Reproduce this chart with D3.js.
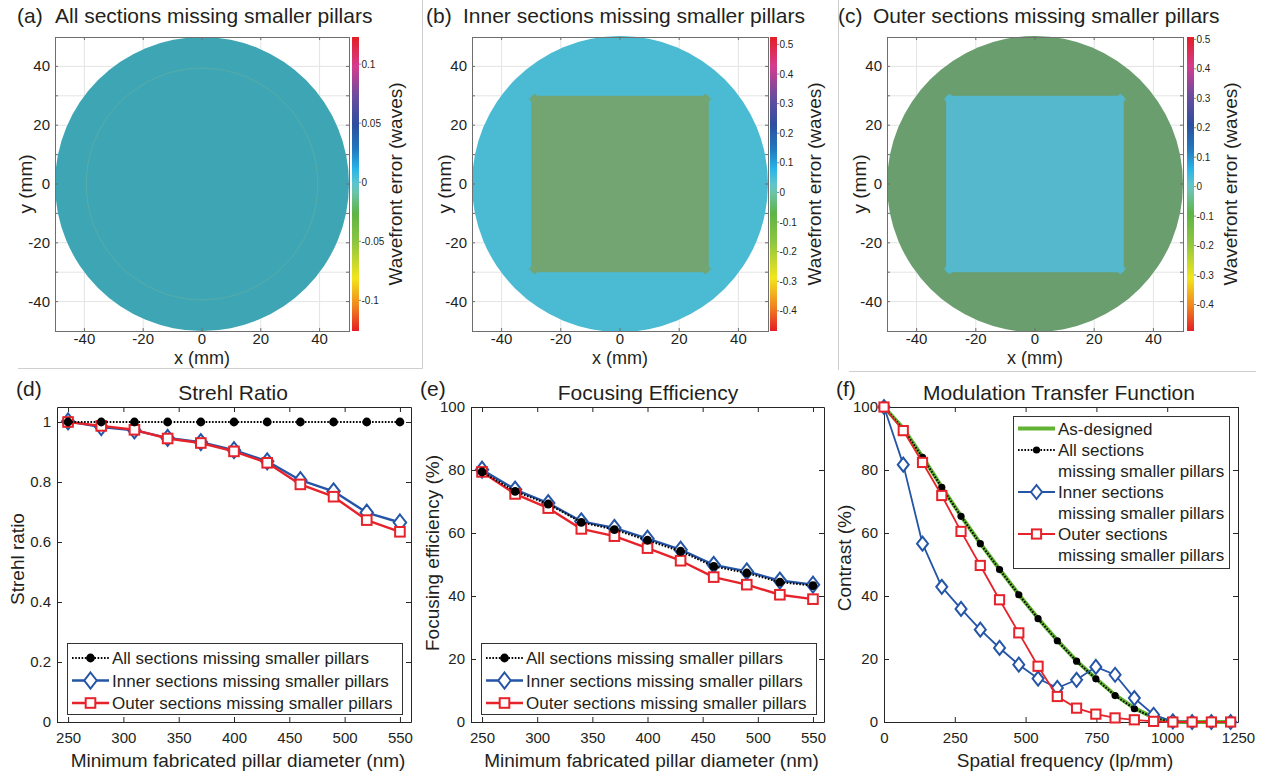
<!DOCTYPE html>
<html>
<head>
<meta charset="utf-8">
<script src="https://cdn.jsdelivr.net/npm/d3@7"></script>
<style>
  body { margin: 0; background: #fff; }
  svg text { font-family: "Liberation Sans", Arial, Helvetica, sans-serif; fill: #231f20; }
</style>
</head>
<body>
<svg id="fig" width="1261" height="775"></svg>
<script>
// ---------- data ----------
const mapLetters = ["(a)", "(b)", "(c)"];
const mapTitles = ["All sections missing smaller pillars",
                   "Inner sections missing smaller pillars",
                   "Outer sections missing smaller pillars"];
const mapXTicks = [-40, -20, 0, 20, 40];
const mapYTicks = [-40, -30, -20, -10, 0, 10, 20, 30, 40];
const mapYLabels = [-40, -20, 0, 20, 40];
const apertureRadius = 50;        // mm
const sectionEdges = [-30, 30];   // mm, inner square sections
const ringRadius = 39.4;          // faint ring visible in (a)
const cbarDomains = [[-0.126, 0.123], [-0.468, 0.525], [-0.49, 0.508]];
const cbarTicks = [
  [-0.1, -0.05, 0, 0.05, 0.1],
  [-0.4, -0.3, -0.2, -0.1, 0, 0.1, 0.2, 0.3, 0.4, 0.5],
  [-0.4, -0.3, -0.2, -0.1, 0, 0.1, 0.2, 0.3, 0.4, 0.5]
];

const seriesNames = ["All sections missing smaller pillars",
                     "Inner sections missing smaller pillars",
                     "Outer sections missing smaller pillars"];
const diameters = [250, 280, 310, 340, 370, 400, 430, 460, 490, 520, 550];
const diameterTicks = [250, 300, 350, 400, 450, 500, 550];
const strehlTicks = [0, 0.2, 0.4, 0.6, 0.8, 1];
const strehlAll   = [1, 1, 1, 1, 1, 1, 1, 1, 1, 1, 1];
const strehlInner = [1.002, 0.983, 0.972, 0.947, 0.933, 0.906, 0.869, 0.806, 0.769, 0.698, 0.665];
const strehlOuter = [1.0, 0.987, 0.974, 0.945, 0.930, 0.902, 0.864, 0.792, 0.751, 0.673, 0.634];
const percentTicks = [0, 20, 40, 60, 80, 100];
const effAll   = [79.4, 73.2, 69.2, 63.4, 61.1, 57.7, 54.2, 49.4, 47.3, 44.4, 43.3];
const effInner = [80.1, 73.8, 69.5, 63.7, 61.6, 58.2, 54.7, 49.9, 47.8, 44.9, 43.6];
const effOuter = [79.4, 72.4, 67.9, 61.3, 59.0, 55.2, 51.2, 46.0, 43.6, 40.4, 39.0];

const freqTicks = [0, 250, 500, 750, 1000, 1250];
const freqs     = [0, 68, 136, 204, 272, 340, 408, 476, 544, 612, 680, 748, 816, 884, 952, 1020, 1088, 1156, 1224];
const mtfDesign = [100, 93.2, 84.2, 74.6, 65.4, 56.7, 48.5, 40.5, 32.9, 25.9, 19.4, 13.8, 8.6, 4.4, 1.4, 0, 0, 0, 0];
const mtfAll    = [100, 93.0, 84.0, 74.5, 65.3, 56.6, 48.4, 40.4, 32.8, 25.8, 19.3, 13.7, 8.4, 4.2, 1.3, 0, 0, 0, 0];
const mtfInner  = [100, 81.7, 56.6, 42.9, 35.9, 29.3, 23.5, 18.2, 13.8, 10.8, 13.4, 17.5, 15.0, 7.6, 2.3, 0.2, 0, 0, 0];
const mtfOuter  = [100, 92.5, 82.4, 71.9, 60.5, 49.7, 38.8, 28.3, 17.7, 8.1, 4.4, 2.5, 1.3, 0.7, 0.2, 0, 0, 0, 0];
const mtfNames  = [["As-designed"],
                   ["All sections", "missing smaller pillars"],
                   ["Inner sections", "missing smaller pillars"],
                   ["Outer sections", "missing smaller pillars"]];

// ---------- styles ----------
const INK = "#231f20";
const BLUE = "#2455a6", RED = "#e6222a", GREEN = "#62b334";
const cmapStops = [[0, "#e31e25"], [0.08, "#f0801f"], [0.18, "#f2e61c"], [0.3, "#8fc640"],
                   [0.4, "#5db446"], [0.47, "#6cc3a8"], [0.5, "#60c4cc"], [0.55, "#29b5e8"],
                   [0.62, "#2277bd"], [0.7, "#2c4f9f"], [0.8, "#6c4c9e"], [0.9, "#d43c8e"], [1, "#e31e25"]];

const svg = d3.select("#fig");
const defs = svg.append("defs");

// panel separators
svg.append("path").attr("d", "M18,368.5H422.5V0").attr("fill", "none").attr("stroke", "#cfcfcf");
svg.append("path").attr("d", "M838.5,0V370M849,371.5H1256").attr("fill", "none").attr("stroke", "#cfcfcf");

// ---------- wavefront maps ----------
const mapPanels = [
  { box: [55, 37, 349, 331], cbarX: 352, cbarLabelX: 402, yLabelX: 32, titleX: [17, 55],
    outer: "#3ea5b5", inner: null },
  { box: [472, 37, 768, 331], cbarX: 770, cbarLabelX: 821, yLabelX: 451, titleX: [426, 463],
    outer: "#4bbad3", inner: "#73a573" },
  { box: [887, 37, 1183, 331], cbarX: 1187, cbarLabelX: 1237, yLabelX: 866, titleX: [838, 873],
    outer: "#6a9e6e", inner: "#55b8cd" }
];

mapPanels.forEach((p, i) => {
  const [x0, y0, x1, y1] = p.box;
  const x = d3.scaleLinear().domain([-50, 50]).range([x0, x1]);
  const y = d3.scaleLinear().domain([-50, 50]).range([y1, y0]);
  const g = svg.append("g");

  // grid
  g.append("g").selectAll("line").data(mapXTicks).join("line")
    .attr("x1", d => x(d)).attr("x2", d => x(d)).attr("y1", y0).attr("y2", y1)
    .attr("stroke", "#e4e4e4");
  g.append("g").selectAll("line").data(mapYTicks).join("line")
    .attr("y1", d => y(d)).attr("y2", d => y(d)).attr("x1", x0).attr("x2", x1)
    .attr("stroke", "#e4e4e4");

  // aperture
  const r = x(apertureRadius) - x(0);
  g.append("circle").attr("cx", x(0)).attr("cy", y(0)).attr("r", r).attr("fill", p.outer);
  if (i === 0) {
    g.append("circle").attr("cx", x(0)).attr("cy", y(0)).attr("r", x(ringRadius) - x(0))
      .attr("fill", "none").attr("stroke", "#a9c27a").attr("stroke-opacity", 0.3).attr("stroke-width", 0.8);
  }
  if (p.inner) {
    const [a, b] = sectionEdges;
    g.append("rect").attr("x", x(a)).attr("y", y(b))
      .attr("width", x(b) - x(a)).attr("height", y(a) - y(b)).attr("fill", p.inner);
    // ragged corners of the inner sections
    const corners = [[a + 1.2, a + 1.2], [a + 1.2, b - 1.2], [b - 1.2, a + 1.2], [b - 1.2, b - 1.2]];
    const k = x(2) - x(0);
    g.append("g").selectAll("path").data(corners).join("path")
      .attr("d", d => `M${x(d[0])},${y(d[1]) - k}L${x(d[0]) + k},${y(d[1])}L${x(d[0])},${y(d[1]) + k}L${x(d[0]) - k},${y(d[1])}Z`)
      .attr("fill", p.inner).attr("opacity", 0.85);
  }

  // frame and ticks
  g.append("rect").attr("x", x0 + 0.5).attr("y", y0 + 0.5).attr("width", x1 - x0).attr("height", y1 - y0)
    .attr("fill", "none").attr("stroke", "#6e6e6e");
  const tk = g.append("g").attr("stroke", "#6e6e6e");
  mapXTicks.forEach(d => {
    tk.append("line").attr("x1", x(d)).attr("x2", x(d)).attr("y1", y1).attr("y2", y1 - 3);
    tk.append("line").attr("x1", x(d)).attr("x2", x(d)).attr("y1", y0).attr("y2", y0 + 3);
  });
  mapYTicks.forEach(d => {
    tk.append("line").attr("y1", y(d)).attr("y2", y(d)).attr("x1", x0).attr("x2", x0 + 3);
    tk.append("line").attr("y1", y(d)).attr("y2", y(d)).attr("x1", x1).attr("x2", x1 - 3);
  });
  g.append("g").selectAll("text").data(mapXTicks).join("text")
    .attr("x", d => x(d)).attr("y", y1 + 13).attr("text-anchor", "middle")
    .style("font-size", "15px").text(d => d);
  g.append("g").selectAll("text").data(mapYLabels).join("text")
    .attr("x", x0 - 5).attr("y", d => y(d) + 5).attr("text-anchor", "end")
    .style("font-size", "15px").text(d => d);

  g.append("text").attr("x", x(0)).attr("y", 364).attr("text-anchor", "middle")
    .style("font-size", "18px").text("x (mm)");
  g.append("text").attr("transform", `translate(${p.yLabelX},${y(0)}) rotate(-90)`)
    .attr("text-anchor", "middle").style("font-size", "19px").text("y (mm)");

  // title
  g.append("text").attr("x", p.titleX[0]).attr("y", 23).style("font-size", "21px").text(mapLetters[i]);
  g.append("text").attr("x", p.titleX[1]).attr("y", 23).style("font-size", "21px").text(mapTitles[i]);

  // colorbar
  const cs = d3.scaleLinear().domain(cbarDomains[i]).range([y1, y0]);
  const grad = defs.append("linearGradient").attr("id", `cm${i}`)
    .attr("x1", 0).attr("y1", 1).attr("x2", 0).attr("y2", 0);
  grad.selectAll("stop").data(cmapStops).join("stop")
    .attr("offset", d => d[0]).attr("stop-color", d => d[1]);
  g.append("rect").attr("x", p.cbarX).attr("y", y0).attr("width", 7).attr("height", y1 - y0)
    .attr("fill", `url(#cm${i})`);
  g.append("g").selectAll("line").data(cbarTicks[i]).join("line")
    .attr("x1", p.cbarX + 7).attr("x2", p.cbarX + 9).attr("y1", d => cs(d)).attr("y2", d => cs(d))
    .attr("stroke", "#888");
  g.append("g").selectAll("text").data(cbarTicks[i]).join("text")
    .attr("x", p.cbarX + 9.5).attr("y", d => cs(d) + 3.5)
    .style("font-size", "10px").text(d => d);
  g.append("text").attr("transform", `translate(${p.cbarLabelX},${y(0)}) rotate(-90)`)
    .attr("text-anchor", "middle").style("font-size", "19px").text("Wavefront error (waves)");
});

// ---------- line charts ----------
function drawMarker(g, type, cx, cy, color, small) {
  if (type === "dot") {
    g.append("circle").attr("cx", cx).attr("cy", cy).attr("r", small ? 3.6 : 4.4).attr("fill", "#000");
  } else if (type === "diamond") {
    const w = small ? 5.5 : 6.2, h = small ? 7 : 8;
    g.append("path").attr("d", `M${cx},${cy - h}L${cx + w},${cy}L${cx},${cy + h}L${cx - w},${cy}Z`)
      .attr("fill", "#fff").attr("stroke", color).attr("stroke-width", 2);
  } else if (type === "square") {
    const s = small ? 4.6 : 4.8;
    g.append("rect").attr("x", cx - s).attr("y", cy - s).attr("width", 2 * s).attr("height", 2 * s)
      .attr("fill", "#fff").attr("stroke", color).attr("stroke-width", 2);
  }
}

function drawLineChart(p) {
  const [x0, y0, x1, y1] = p.box;
  const x = d3.scaleLinear().domain(p.xDomain).range([x0, x1]);
  const y = d3.scaleLinear().domain(p.yDomain).range([y1, y0]);
  const g = svg.append("g");

  // axes (ticks inward on all four sides)
  const styleAxis = a => {
    a.select(".domain").attr("stroke", "#262626");
    a.selectAll(".tick line").attr("stroke", "#262626");
    a.selectAll("text").style("font-size", "15px").attr("fill", INK)
      .style("font-family", '"Liberation Sans", Arial, sans-serif');
  };
  g.append("g").attr("transform", `translate(0,${y1})`)
    .call(d3.axisBottom(x).tickValues(p.xTicks).tickSize(-5).tickPadding(10).tickSizeOuter(0).tickFormat(d => d))
    .call(styleAxis);
  g.append("g").attr("transform", `translate(0,${y0})`)
    .call(d3.axisTop(x).tickValues(p.xTicks).tickSize(-5).tickSizeOuter(0).tickFormat(""))
    .call(styleAxis);
  g.append("g").attr("transform", `translate(${x0},0)`)
    .call(d3.axisLeft(y).tickValues(p.yTicks).tickSize(-5).tickPadding(6).tickSizeOuter(0).tickFormat(d => d))
    .call(styleAxis);
  g.append("g").attr("transform", `translate(${x1},0)`)
    .call(d3.axisRight(y).tickValues(p.yTicks).tickSize(-5).tickSizeOuter(0).tickFormat(""))
    .call(styleAxis);

  // series
  p.series.forEach(s => {
    const pts = p.xs.map((xv, j) => [x(xv), y(s.values[j])]);
    g.append("path").attr("d", d3.line()(pts)).attr("fill", "none")
      .attr("stroke", s.color).attr("stroke-width", s.width)
      .attr("stroke-dasharray", s.dash || null).attr("stroke-linejoin", "round");
    if (s.marker) {
      const mg = g.append("g");
      pts.forEach(pt => drawMarker(mg, s.marker, pt[0], pt[1], s.color, p.small));
    }
  });

  // legend
  const lg = g.append("g");
  const [lx0, ly0, lx1, ly1] = p.legendBox;
  lg.append("rect").attr("x", lx0 + 0.5).attr("y", ly0 + 0.5).attr("width", lx1 - lx0).attr("height", ly1 - ly0)
    .attr("fill", "#fff").attr("stroke", "#333");
  p.legend.forEach(e => {
    const s = e.series;
    lg.append("line").attr("x1", lx0 + 5).attr("x2", lx0 + 42).attr("y1", e.y).attr("y2", e.y)
      .attr("stroke", s.color).attr("stroke-width", s.width).attr("stroke-dasharray", s.dash || null);
    if (s.marker) drawMarker(lg, s.marker, lx0 + 23.5, e.y, s.color, p.small);
    e.lines.forEach((t, k) => {
      lg.append("text").attr("x", lx0 + 45).attr("y", e.y + 6 + k * p.lineGap)
        .style("font-size", "17px").text(t);
    });
  });

  // labels
  g.append("text").attr("x", (x0 + x1) / 2 + 4).attr("y", 767).attr("text-anchor", "middle")
    .style("font-size", "19px").text(p.xLabel);
  g.append("text").attr("transform", `translate(${p.yLabelX},${p.yLabelY}) rotate(-90)`)
    .attr("text-anchor", "middle").style("font-size", "19px").text(p.yLabel);
  g.append("text").attr("x", p.letterX).attr("y", 396).style("font-size", "21px").text(p.letter);
  g.append("text").attr("x", p.titleX).attr("y", 400).attr("text-anchor", "middle")
    .style("font-size", "21px").text(p.title);
}

const sAll = v => ({ values: v, color: "#000", width: 2, dash: "1.6,1.6", marker: "dot" });
const sInner = (v, w) => ({ values: v, color: BLUE, width: w, marker: "diamond" });
const sOuter = (v, w) => ({ values: v, color: RED, width: w, marker: "square" });

// (d) Strehl ratio
{
  const all = sAll(strehlAll), inner = sInner(strehlInner, 2.4), outer = sOuter(strehlOuter, 2.4);
  drawLineChart({
    box: [57, 407, 411, 722], xDomain: [240, 560], yDomain: [0, 1.05],
    xTicks: diameterTicks, yTicks: strehlTicks, xs: diameters,
    series: [inner, outer, all],
    legendBox: [67, 643, 402, 714], lineGap: 21,
    legend: [{ series: all, y: 658, lines: [seriesNames[0]] },
             { series: inner, y: 680.5, lines: [seriesNames[1]] },
             { series: outer, y: 703, lines: [seriesNames[2]] }],
    xLabel: "Minimum fabricated pillar diameter (nm)", yLabel: "Strehl ratio",
    yLabelX: 24, yLabelY: 559, letter: "(d)", letterX: 16, title: "Strehl Ratio", titleX: 233
  });
}
// (e) Focusing efficiency
{
  const all = sAll(effAll), inner = sInner(effInner, 2.4), outer = sOuter(effOuter, 2.4);
  drawLineChart({
    box: [471, 407, 824, 722], xDomain: [240, 560], yDomain: [0, 100],
    xTicks: diameterTicks, yTicks: percentTicks, xs: diameters,
    series: [inner, outer, all],
    legendBox: [481, 643, 816, 714], lineGap: 21,
    legend: [{ series: all, y: 658, lines: [seriesNames[0]] },
             { series: inner, y: 680.5, lines: [seriesNames[1]] },
             { series: outer, y: 703, lines: [seriesNames[2]] }],
    xLabel: "Minimum fabricated pillar diameter (nm)", yLabel: "Focusing efficiency (%)",
    yLabelX: 439, yLabelY: 553, letter: "(e)", letterX: 420, title: "Focusing Efficiency", titleX: 648
  });
}
// (f) MTF
{
  const design = { values: mtfDesign, color: GREEN, width: 4 };
  const all = sAll(mtfAll), inner = sInner(mtfInner, 1.8), outer = sOuter(mtfOuter, 1.8);
  drawLineChart({
    box: [884, 407, 1238, 722], xDomain: [0, 1250], yDomain: [0, 100], small: true,
    xTicks: freqTicks, yTicks: percentTicks, xs: freqs,
    series: [design, all, inner, outer],
    legendBox: [1013, 416, 1229, 568], lineGap: 21.3,
    legend: [{ series: design, y: 428.5, lines: mtfNames[0] },
             { series: all, y: 450, lines: mtfNames[1] },
             { series: inner, y: 492, lines: mtfNames[2] },
             { series: outer, y: 534, lines: mtfNames[3] }],
    xLabel: "Spatial frequency (lp/mm)", yLabel: "Contrast (%)",
    yLabelX: 851, yLabelY: 558, letter: "(f)", letterX: 836, title: "Modulation Transfer Function", titleX: 1059
  });
}
</script>
</body>
</html>
